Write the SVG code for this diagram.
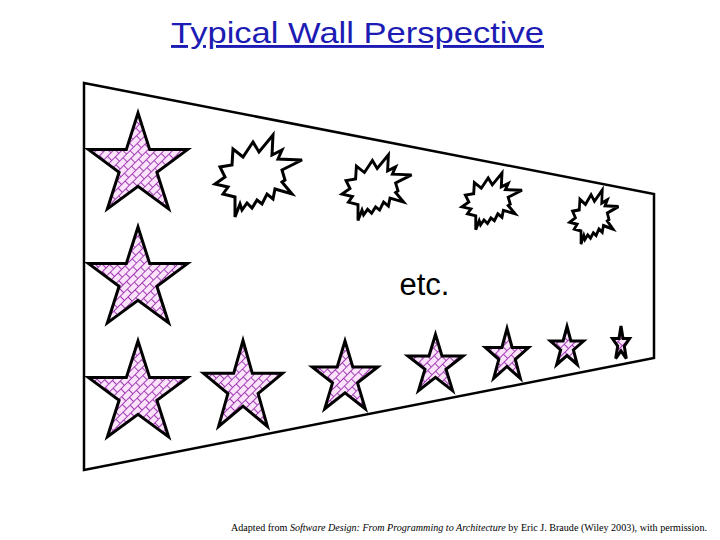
<svg xmlns="http://www.w3.org/2000/svg" width="720" height="540" viewBox="0 0 720 540">
<defs>
<pattern id="brick" patternUnits="userSpaceOnUse" width="10" height="12" patternTransform="rotate(-45)">
<rect width="10" height="12" fill="#fbe4fb"/>
<path d="M0 0.5H10M0 6.5H10M0.5 0.5V6.5M5.5 6.5V12.5" stroke="#a23cb4" stroke-width="1" fill="none"/>
</pattern>
<path id="burst" d="M23,17 L33,25 L43,10 L49,20 L63,3 L62,23 L72,18 L68,27 L92,28 L72,38 L75,48 L72,50 L82,62 L65,57 L63,67 L57,62 L52,72 L47,68 L42,76 L37,71 L32,78 L30,72 L25,85 L25,65 L13,62 L18,55 L5,52 L15,45 L10,35 L22,33 Z"/>
</defs>
<style>
.star{fill:url(#brick);stroke:#000;stroke-width:3;stroke-linejoin:miter}
.burst use{fill:#fff;stroke:#000;stroke-width:3;stroke-linejoin:miter}
.wall{fill:#fff;stroke:#000;stroke-width:2.5}
</style>
<rect width="720" height="540" fill="#fff"/>
<text x="357.5" y="43" font-family="Liberation Sans, Arial, sans-serif" font-size="29" fill="#1c1cb4" text-anchor="middle" text-decoration="underline" textLength="373" lengthAdjust="spacingAndGlyphs">Typical Wall Perspective</text>
<g id="wall"><polygon class="wall" points="84,83 654,194 654,358 84,470"/></g>
<g id="stars">
<polygon id="star1" class="star" points="138,113 149.7,149.6 187.5,149.6 156.9,172.3 168.6,208.9 138,186.3 107.4,208.9 119.1,172.3 88.5,149.6 126.3,149.6"/>
<polygon id="star2" class="star" points="138,227 149.7,263.6 187.5,263.6 156.9,286.3 168.6,322.9 138,300.3 107.4,322.9 119.1,286.3 88.5,263.6 126.3,263.6"/>
<polygon id="star3" class="star" points="138,341 149.7,377.6 187.5,377.6 156.9,400.3 168.6,436.9 138,414.3 107.4,436.9 119.1,400.3 88.5,377.6 126.3,377.6"/>
<polygon id="star4" class="star" points="243,340.5 252.3,373.3 282.5,373.3 258.1,393.6 267.4,426.4 243,406.2 218.6,426.4 227.9,393.6 203.5,373.3 233.7,373.3"/>
<polygon id="star5" class="star" points="345,341 352.8,366.9 377.8,366.9 357.5,382.9 365.3,408.8 345,392.8 324.7,408.8 332.5,382.9 312.2,366.9 337.2,366.9"/>
<polygon id="star6" class="star" points="435.5,334.5 442,355.9 463.1,355.9 446,369.2 452.6,390.6 435.5,377.3 418.5,390.6 425,369.2 407.9,355.9 429,355.9"/>
<polygon id="star7" class="star" points="507,328.5 512.1,347.5 528.6,347.5 515.3,359.3 520.3,378.3 507,366.5 493.7,378.3 498.8,359.3 485.4,347.5 501.9,347.5"/>
<polygon id="star8" class="star" points="567,326.5 570.9,341 583.6,341 573.4,350 577.3,364.5 567,355.5 556.7,364.5 560.6,350 550.4,341 563.1,341"/>
<polygon id="star9" class="star" points="621,326 623,338.4 629.6,338.4 624.3,346.1 626.3,358.6 621,350.9 615.7,358.6 617.7,346.1 612.4,338.4 619,338.4"/>
</g>
<g id="bursts" class="burst">
<g id="burst1"><use href="#burst" transform="translate(210,132)" stroke-width="3"/></g>
<g id="burst2"><use href="#burst" transform="translate(338,152.5) scale(0.8)" style="stroke-width:3.6"/></g>
<g id="burst3"><use href="#burst" transform="translate(458.5,171) scale(0.69)" style="stroke-width:4.2"/></g>
<g id="burst4"><use href="#burst" transform="translate(567,188) scale(0.56,0.66)" style="stroke-width:4.8"/></g>
</g>
<text x="424.5" y="295" font-family="Liberation Sans, Arial, sans-serif" font-size="31" text-anchor="middle">etc.</text>
<text x="231" y="531" font-family="Liberation Serif, Times New Roman, serif" font-size="10" textLength="476" lengthAdjust="spacingAndGlyphs">Adapted from <tspan font-style="italic">Software Design: From Programming to Architecture</tspan> by Eric J. Braude (Wiley 2003), with permission.</text>
</svg>
